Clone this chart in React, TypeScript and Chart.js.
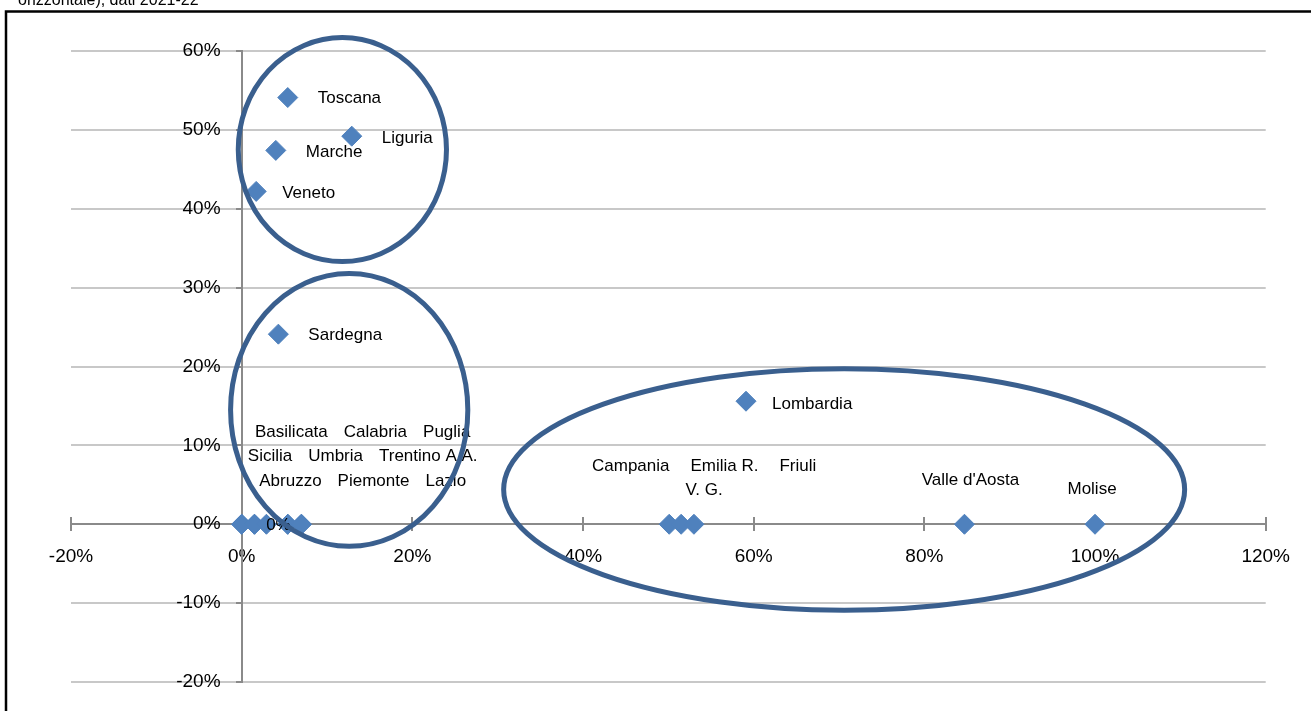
import React, { useEffect, useRef } from "react";
import { Chart, registerables } from "chart.js";

Chart.register(...registerables);

// ---------- data ----------
const regionNames = [
  "Toscana", "Liguria", "Marche", "Veneto", "Sardegna", "Lombardia",
  "Campania", "Emilia R.", "Friuli V. G.", "Valle d'Aosta", "Molise",
  "Abruzzo", "Basilicata", "Calabria", "Lazio", "Piemonte", "Puglia",
  "Sicilia", "Trentino A.A.", "Umbria",
];
const xShare = [
  5.4, 12.9, 4.0, 1.7, 4.3, 59.1,
  50.1, 51.5, 53.0, 84.7, 100.0,
  0.0, 0.0, 1.5, 1.5, 2.9, 5.4,
  5.4, 7.0, 7.0,
];
const yShare = [
  54.1, 49.2, 47.4, 42.2, 24.1, 15.6,
  0, 0, 0, 0, 0,
  0, 0, 0, 0, 0, 0,
  0, 0, 0,
];
const xTickValues = [-20, 0, 20, 40, 60, 80, 100, 120];
const xTickLabels = ["-20%", "0%", "20%", "40%", "60%", "80%", "100%", "120%"];
const yTickValues = [-20, -10, 0, 10, 20, 30, 40, 50, 60];
const yTickLabels = ["-20%", "-10%", "0%", "10%", "20%", "30%", "40%", "50%", "60%"];
const titleText = "orizzontale), dati 2021-22";

// label blocks (anchor region + text lines; offsets are styling, in px)
const labelBlocks = [
  { anchor: "Toscana", lines: [["Toscana"]], align: "left", dx: 30, dy: 1 },
  { anchor: "Liguria", lines: [["Liguria"]], align: "left", dx: 30, dy: 2 },
  { anchor: "Marche", lines: [["Marche"]], align: "left", dx: 30, dy: 2 },
  { anchor: "Veneto", lines: [["Veneto"]], align: "left", dx: 26, dy: 2 },
  { anchor: "Sardegna", lines: [["Sardegna"]], align: "left", dx: 30, dy: 1 },
  { anchor: "Lombardia", lines: [["Lombardia"]], align: "left", dx: 26, dy: 3 },
  { anchor: "Valle d'Aosta", lines: [["Valle d'Aosta"]], align: "center", dx: 6, dy: -44 },
  { anchor: "Molise", lines: [["Molise"]], align: "center", dx: -3, dy: -35 },
  {
    anchor: "Emilia R.",
    lines: [["Campania", "Emilia R.", "Friuli"], ["V. G."]],
    align: "center", dx: 23, dy: -58, gap: 21, lineStep: 24.5,
  },
  {
    anchor: "Abruzzo",
    lines: [
      ["Basilicata", "Calabria", "Puglia"],
      ["Sicilia", "Umbria", "Trentino A.A."],
      ["Abruzzo", "Piemonte", "Lazio"],
    ],
    align: "center", dx: 121, dy: -92, gap: 16, lineStep: 24.5,
  },
  { anchor: "Piemonte", lines: [["0%"]], align: "center", dx: 12, dy: 1 },
];

// group ellipses in data units
const ellipses = [
  { cx: 11.8, cy: 47.5, rx: 12.2, ry: 14.2 },
  { cx: 12.6, cy: 14.5, rx: 13.9, ry: 17.3 },
  { cx: 70.6, cy: 4.4, rx: 39.9, ry: 15.3 },
];

const FONT = "'Liberation Sans', Arial, sans-serif";
const AXIS_COLOR = "#8A8A8A";
const GRID_COLOR = "#C8C8C8";
const POINT_COLOR = "#4F81BD";
const ELLIPSE_COLOR = "#3A5F8E";
const Y_LABEL_GAP = "    "; // gap between y labels and the axis line

const overlayPlugin = {
  id: "overlay",
  beforeDraw(chart: any) {
    const ctx = chart.ctx;
    ctx.save();
    ctx.fillStyle = "#ffffff";
    ctx.fillRect(0, 0, chart.width, chart.height);
    ctx.fillStyle = "#000";
    ctx.font = `16px ${FONT}`;
    ctx.textBaseline = "alphabetic";
    ctx.textAlign = "left";
    ctx.fillText(titleText, 18, 5);
    ctx.strokeStyle = "#000";
    ctx.lineWidth = 2.5;
    ctx.strokeRect(6, 11.5, chart.width + 100, chart.height + 100);
    ctx.restore();
  },
  beforeDatasetsDraw(chart: any) {
    const ctx = chart.ctx;
    const xs = chart.scales.x;
    const ys = chart.scales.y;
    const x0 = Math.round(xs.getPixelForValue(0));
    const y0 = Math.round(ys.getPixelForValue(0));
    ctx.save();
    ctx.strokeStyle = AXIS_COLOR;
    ctx.lineWidth = 2;
    ctx.beginPath();
    xTickValues.forEach((v) => {
      const px = Math.round(xs.getPixelForValue(v));
      ctx.moveTo(px, y0 - 7);
      ctx.lineTo(px, y0 + 7);
    });
    yTickValues.forEach((v) => {
      const py = Math.round(ys.getPixelForValue(v));
      ctx.moveTo(x0 - 6, py);
      ctx.lineTo(x0, py);
    });
    ctx.stroke();
    ctx.restore();
  },
  afterDatasetsDraw(chart: any) {
    const ctx = chart.ctx;
    const xs = chart.scales.x;
    const ys = chart.scales.y;
    ctx.save();
    ctx.fillStyle = "#000";
    ctx.font = `17px ${FONT}`;
    ctx.textBaseline = "middle";
    labelBlocks.forEach((b: any) => {
      const i = regionNames.indexOf(b.anchor);
      const px = xs.getPixelForValue(xShare[i]);
      const py = ys.getPixelForValue(yShare[i]);
      const gap = b.gap ?? 16;
      const step = b.lineStep ?? 24;
      b.lines.forEach((words: string[], li: number) => {
        const widths = words.map((w) => ctx.measureText(w).width);
        const total = widths.reduce((a, c) => a + c, 0) + gap * (words.length - 1);
        let start = b.align === "left" ? px + b.dx : px + b.dx - total / 2;
        const ly = py + b.dy + li * step;
        ctx.textAlign = "left";
        words.forEach((w, wi) => {
          ctx.fillText(w, start, ly);
          start += widths[wi] + gap;
        });
      });
    });
    ctx.strokeStyle = ELLIPSE_COLOR;
    ctx.lineWidth = 5;
    ellipses.forEach((e) => {
      const cx = xs.getPixelForValue(e.cx);
      const cy = ys.getPixelForValue(e.cy);
      const rx = Math.abs(xs.getPixelForValue(e.cx + e.rx) - cx);
      const ry = Math.abs(ys.getPixelForValue(e.cy + e.ry) - cy);
      ctx.beginPath();
      ctx.ellipse(cx, cy, rx, ry, 0, 0, Math.PI * 2);
      ctx.stroke();
    });
    ctx.restore();
  },
};

export default function App() {
  const canvasRef = useRef<HTMLCanvasElement | null>(null);

  useEffect(() => {
    if (!canvasRef.current) return;
    const chart = new Chart(canvasRef.current, {
      type: "scatter",
      data: {
        datasets: [
          {
            label: "Regioni",
            data: xShare.map((x, i) => ({ x, y: yShare[i] })),
            pointStyle: "rectRot",
            pointRadius: 10,
            pointHoverRadius: 10,
            backgroundColor: POINT_COLOR,
            borderColor: POINT_COLOR,
            borderWidth: 1,
            clip: false as any,
          },
        ],
      },
      options: {
        animation: false,
        responsive: false,
        events: [],
        layout: { padding: { left: 71, right: 44, top: 51, bottom: 29 } },
        plugins: {
          legend: { display: false },
          tooltip: { enabled: false },
          title: { display: false },
        },
        scales: {
          x: {
            type: "linear",
            min: -20,
            max: 120,
            position: { y: 0 } as any,
            afterFit: (s: any) => { s.height = 0; },
            afterBuildTicks: (s: any) => { s.ticks = xTickValues.map((v) => ({ value: v })); },
            ticks: {
              callback: (v: any) => xTickLabels[xTickValues.indexOf(Number(v))] ?? "",
              font: { family: FONT, size: 19 },
              color: "#000",
              padding: 21,
              maxRotation: 0,
              autoSkip: false,
            },
            grid: { display: true, drawOnChartArea: false, drawTicks: false },
            border: { display: true, color: AXIS_COLOR, width: 2 },
          },
          y: {
            type: "linear",
            min: -20,
            max: 60,
            position: { x: 0 } as any,
            afterFit: (s: any) => { s.width = 0; },
            afterBuildTicks: (s: any) => { s.ticks = yTickValues.map((v) => ({ value: v })); },
            ticks: {
              callback: (v: any) => (yTickLabels[yTickValues.indexOf(Number(v))] ?? "") + Y_LABEL_GAP,
              font: { family: FONT, size: 19 },
              color: "#000",
              padding: 0,
              autoSkip: false,
            },
            grid: {
              color: (c: any) => (c.tick && c.tick.value === 0 ? "rgba(0,0,0,0)" : GRID_COLOR),
              lineWidth: 2,
              drawTicks: false,
            },
            border: { display: true, color: AXIS_COLOR, width: 2 },
          },
        },
      },
      plugins: [overlayPlugin],
    });
    return () => chart.destroy();
  }, []);

  return (
    <div style={{ position: "fixed", left: 0, top: 0, width: 1311, height: 711, background: "#fff" }}>
      <canvas ref={canvasRef} width={1311} height={711} style={{ display: "block" }} />
    </div>
  );
}
